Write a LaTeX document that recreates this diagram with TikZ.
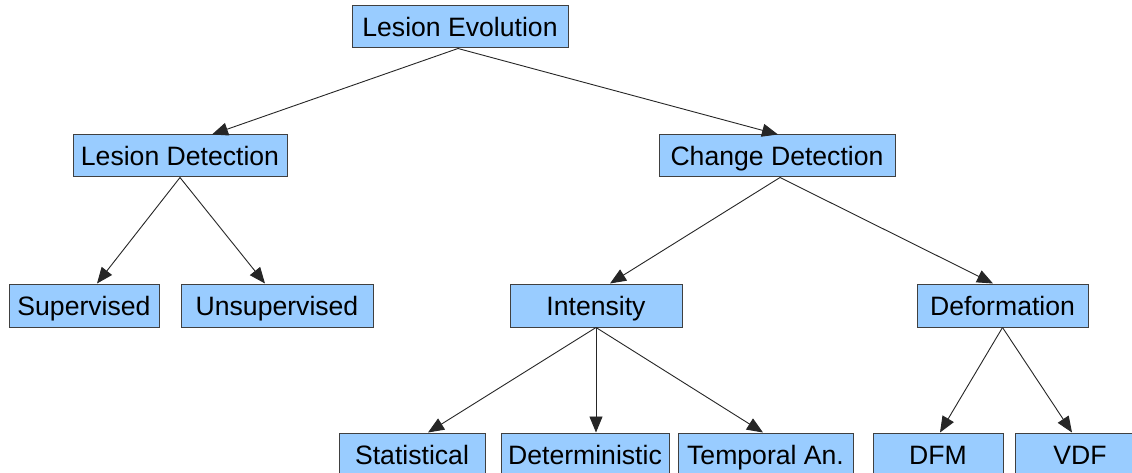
\documentclass[tikz,border=0pt]{standalone}
\usepackage{fontspec}
\setmainfont{Liberation Sans}
\usetikzlibrary{arrows.meta}
\definecolor{boxfill}{HTML}{99CCFF}
\definecolor{boxline}{HTML}{404040}
\tikzset{
  box/.style={draw=boxline, line width=1pt, fill=boxfill, inner sep=0pt,
    minimum height=42pt, text height=20pt, text depth=0pt,
    font=\fontsize{26.6}{30}\selectfont, text=black},
  conn/.style={draw=black!85, line width=0.9pt, -{Triangle[length=16pt,width=13pt]}}
}
\begin{document}
\begin{tikzpicture}[x=1pt,y=-1pt]
\useasboundingbox (0,0) rectangle (1132,473);
\clip (0,0) rectangle (1132,473);
\fill[white] (0,0) rectangle (1132,473);
\node[box, minimum width=216pt] (le) at (460,27) {Lesion Evolution};
\node[box, minimum width=214pt] (ld) at (180,156) {Lesion Detection};
\node[box, minimum width=236pt] (cd) at (777,156) {Change Detection};
\node[box, minimum width=150pt, minimum height=43pt] (sup) at (84,305.5) {Supervised};
\node[box, minimum width=192pt, minimum height=43pt] (uns) at (277,305.5) {Unsupervised};
\node[box, minimum width=172pt, minimum height=43pt] (int) at (596,305.5) {Intensity};
\node[box, minimum width=171pt, minimum height=43pt] (def) at (1002.5,305.5) {Deformation};
\node[box, minimum width=146pt, minimum height=43pt] (stat) at (412,454.5) {Statistical};
\node[box, minimum width=168pt, minimum height=43pt] (det) at (585,454.5) {Deterministic};
\node[box, minimum width=175pt, minimum height=43pt] (temp) at (765.5,454.5) {Temporal An.};
\node[box, minimum width=130pt, minimum height=43pt] (dfm) at (938,454.5) {DFM};
\node[box, minimum width=130pt, minimum height=43pt] (vdf) at (1080,454.5) {VDF};
\draw[conn] ([xshift=-2pt]le.south) -- ([xshift=32pt]ld.north);
\draw[conn] ([xshift=-2pt]le.south) -- ([xshift=1pt]cd.north);
\draw[conn] (ld.south) -- ([xshift=13pt]sup.north);
\draw[conn] (ld.south) -- ([xshift=-12pt]uns.north);
\draw[conn] ([xshift=3pt]cd.south) -- ([xshift=14pt]int.north);
\draw[conn] ([xshift=3pt]cd.south) -- ([xshift=-9.5pt]def.north);
\draw[conn] (int.south) -- ([xshift=16pt]stat.north);
\draw[conn] (int.south) -- ([xshift=11pt]det.north);
\draw[conn] (int.south) -- ([xshift=-2.5pt]temp.north);
\draw[conn] (def.south) -- ([xshift=2pt]dfm.north);
\draw[conn] (def.south) -- ([xshift=-8pt]vdf.north);
\end{tikzpicture}
\end{document}
